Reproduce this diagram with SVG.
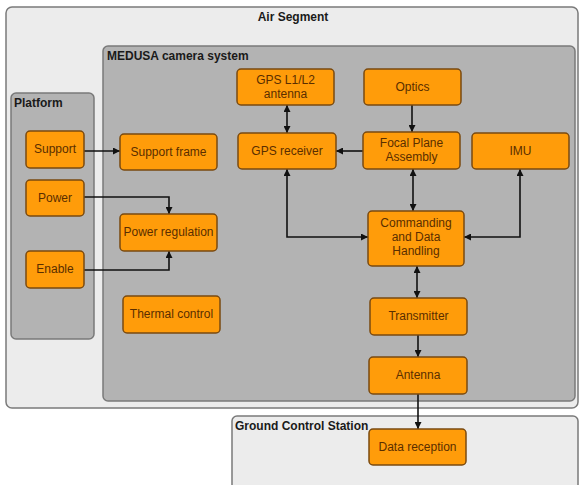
<svg xmlns="http://www.w3.org/2000/svg" width="580" height="485" viewBox="0 0 580 485">
<style>
.cont{stroke:#7a7a7a;stroke-width:1.5}
.light{fill:#ececec}
.dark{fill:#b3b3b3}
.title{font-family:"Liberation Sans",Arial,sans-serif;font-size:12px;font-weight:bold;fill:#1a1a1a}
.node rect{fill:#ff9c0a;stroke:#7a4a10;stroke-width:1.5}
.node text{font-family:"Liberation Sans",Arial,sans-serif;font-size:12px;fill:#5a2e00;text-anchor:middle}
.conn path{fill:none;stroke:#111;stroke-width:1.6}
</style>
<defs>
<marker id="ah" viewBox="0 0 10 10" refX="10" refY="5" markerWidth="7" markerHeight="7" orient="auto-start-reverse" markerUnits="userSpaceOnUse">
<path d="M0,0 L10,5 L0,10 z" fill="#111"/>
</marker>
</defs>
<g id="air-segment">
<rect class="cont light" x="6" y="7" width="572" height="401" rx="6"/>
<text class="title" x="293" y="21" text-anchor="middle">Air Segment</text>
</g>
<g id="medusa">
<rect class="cont dark" x="103" y="46" width="472" height="355" rx="5"/>
<text class="title" x="107" y="60">MEDUSA camera system</text>
</g>
<g id="platform">
<rect class="cont dark" x="11" y="93" width="83" height="246" rx="5"/>
<text class="title" x="14" y="107">Platform</text>
</g>
<g id="ground-control-station">
<rect class="cont light" x="232" y="416" width="346" height="80" rx="5"/>
<text class="title" x="235" y="430">Ground Control Station</text>
</g>
<g class="conn" id="connectors">
<path d="M84,151 H120" marker-end="url(#ah)"/>
<path d="M84,197 H169 V214" marker-end="url(#ah)"/>
<path d="M84,270 H169 V251" marker-end="url(#ah)"/>
<path d="M287,105 V133" marker-start="url(#ah)" marker-end="url(#ah)"/>
<path d="M412,105 V132" marker-end="url(#ah)"/>
<path d="M363,151 H336" marker-end="url(#ah)"/>
<path d="M413,169 V211" marker-start="url(#ah)" marker-end="url(#ah)"/>
<path d="M287,169 V237 H368" marker-start="url(#ah)" marker-end="url(#ah)"/>
<path d="M520,169 V237 H464" marker-start="url(#ah)" marker-end="url(#ah)"/>
<path d="M417,266 V298" marker-start="url(#ah)" marker-end="url(#ah)"/>
<path d="M418,335 V357" marker-end="url(#ah)"/>
<path d="M418,394 V429" marker-end="url(#ah)"/>
</g>
<g class="node" id="support"><rect x="26" y="131" width="58" height="37" rx="4"/><text x="55" y="153">Support</text></g>
<g class="node" id="power"><rect x="26" y="180" width="58" height="36" rx="4"/><text x="55" y="202">Power</text></g>
<g class="node" id="enable"><rect x="26" y="251" width="58" height="37" rx="4"/><text x="55" y="273">Enable</text></g>
<g class="node" id="support-frame"><rect x="120" y="134" width="97" height="36" rx="4"/><text x="168.5" y="156">Support frame</text></g>
<g class="node" id="power-regulation"><rect x="120" y="214" width="97" height="37" rx="4"/><text x="168.5" y="236">Power regulation</text></g>
<g class="node" id="thermal-control"><rect x="123" y="296" width="97" height="37" rx="4"/><text x="171.5" y="318">Thermal control</text></g>
<g class="node" id="gps-antenna"><rect x="237" y="69" width="97" height="36" rx="4"/><text x="285.5" y="84">GPS L1/L2</text><text x="285.5" y="98">antenna</text></g>
<g class="node" id="gps-receiver"><rect x="238" y="133" width="98" height="36" rx="4"/><text x="287" y="155">GPS receiver</text></g>
<g class="node" id="optics"><rect x="364" y="69" width="97" height="36" rx="4"/><text x="412.5" y="91">Optics</text></g>
<g class="node" id="fpa"><rect x="363" y="132" width="97" height="37" rx="4"/><text x="411.5" y="147">Focal Plane</text><text x="411.5" y="161">Assembly</text></g>
<g class="node" id="imu"><rect x="472" y="133" width="97" height="36" rx="4"/><text x="520.5" y="155">IMU</text></g>
<g class="node" id="cdh"><rect x="368" y="211" width="96" height="55" rx="4"/><text x="416" y="227">Commanding</text><text x="416" y="241">and Data</text><text x="416" y="255">Handling</text></g>
<g class="node" id="transmitter"><rect x="370" y="298" width="97" height="37" rx="4"/><text x="418.5" y="320">Transmitter</text></g>
<g class="node" id="antenna"><rect x="369" y="357" width="98" height="37" rx="4"/><text x="418" y="379">Antenna</text></g>
<g class="node" id="data-reception"><rect x="369" y="429" width="97" height="36" rx="4"/><text x="417.5" y="451">Data reception</text></g>
</svg>
